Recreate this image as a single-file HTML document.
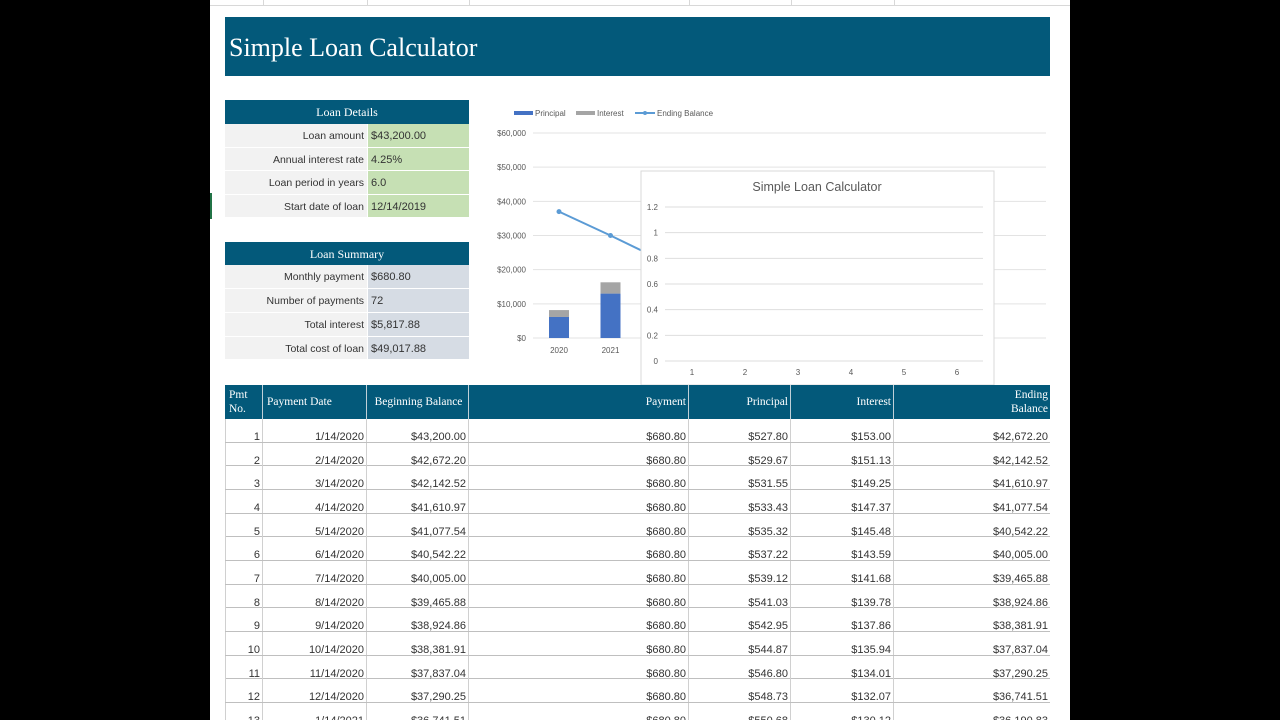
<!DOCTYPE html>
<html><head><meta charset="utf-8">
<style>
*{margin:0;padding:0;box-sizing:border-box}
body{width:1280px;height:720px;background:#000;position:relative;overflow:hidden;font-family:"Liberation Sans",sans-serif}
.abs{position:absolute}
#sheet{left:210px;top:0;width:860px;height:720px;background:#fff}
.hdr{background:#03597a;color:#fff;font-family:"Liberation Serif",serif}
.lbl{background:#f2f2f2;color:#333;font-size:10.5px;text-align:right;padding-right:3px;line-height:25px;border-bottom:1px solid #fff}
.val{color:#333;font-size:11px;padding-left:3px;line-height:25px;border-bottom:1px solid #fff;border-left:1px solid #fff}
.cell{position:absolute;font-size:11px;color:#333;text-align:right;padding-right:2px}
</style></head><body>
<div id="sheet" class="abs">
  <div class="abs" style="left:0;top:0;width:860px;height:6px;border-bottom:1px solid #d8d8d8"></div>
  <div class="abs" style="left:53px;top:0;width:1px;height:6px;background:#d8d8d8"></div>
  <div class="abs" style="left:157px;top:0;width:1px;height:6px;background:#d8d8d8"></div>
  <div class="abs" style="left:259px;top:0;width:1px;height:6px;background:#d8d8d8"></div>
  <div class="abs" style="left:479px;top:0;width:1px;height:6px;background:#d8d8d8"></div>
  <div class="abs" style="left:581px;top:0;width:1px;height:6px;background:#d8d8d8"></div>
  <div class="abs" style="left:684px;top:0;width:1px;height:6px;background:#d8d8d8"></div>
  <div class="abs" style="left:0;top:193px;width:2px;height:26px;background:#217346"></div>
</div>

<div class="abs hdr" style="left:225px;top:17px;width:825px;height:59px;font-size:26px;padding-left:4px;line-height:62px">Simple Loan Calculator</div>

<div class="abs hdr" style="left:225px;top:100px;width:244px;height:24px;font-size:12px;text-align:center;line-height:24px">Loan Details</div>
<div class="abs" style="left:225px;top:124px;width:244px">
  <div style="display:flex;height:24px"><div class="lbl" style="width:142px">Loan amount</div><div class="val" style="width:102px;background:#c6e0b4">$43,200.00</div></div>
  <div style="display:flex;height:23px"><div class="lbl" style="width:142px">Annual interest rate</div><div class="val" style="width:102px;background:#c6e0b4">4.25%</div></div>
  <div style="display:flex;height:24px"><div class="lbl" style="width:142px">Loan period in years</div><div class="val" style="width:102px;background:#c6e0b4">6.0</div></div>
  <div style="display:flex;height:23px"><div class="lbl" style="width:142px">Start date of loan</div><div class="val" style="width:102px;background:#c6e0b4">12/14/2019</div></div>
</div>

<div class="abs hdr" style="left:225px;top:242px;width:244px;height:23px;font-size:12px;text-align:center;line-height:24px">Loan Summary</div>
<div class="abs" style="left:225px;top:265px;width:244px">
  <div style="display:flex;height:24px"><div class="lbl" style="width:142px">Monthly payment</div><div class="val" style="width:102px;background:#d6dce4">$680.80</div></div>
  <div style="display:flex;height:24px"><div class="lbl" style="width:142px">Number of payments</div><div class="val" style="width:102px;background:#d6dce4">72</div></div>
  <div style="display:flex;height:24px"><div class="lbl" style="width:142px">Total interest</div><div class="val" style="width:102px;background:#d6dce4">$5,817.88</div></div>
  <div style="display:flex;height:23px"><div class="lbl" style="width:142px">Total cost of loan</div><div class="val" style="width:102px;background:#d6dce4">$49,017.88</div></div>
</div>

<svg class="abs" id="chart" style="left:0;top:0" width="1280" height="720"></svg>

<div class="abs" id="tbl" style="left:225px;top:385px;width:825px;height:335px;overflow:hidden"></div>

<script>
const NS="http://www.w3.org/2000/svg";
const years=["2020","2021","2022","2023","2024","2025"];
const principalVals=[6150,13000,13580,14170,14790,15430];
const interestVals=[2020,3300,2590,2000,1380,740];
const balanceVals=[36990,30000,22700,15150,7500,0];
const yTicks=[0,10000,20000,30000,40000,50000,60000];
const yTickLabels=["$0","$10,000","$20,000","$30,000","$40,000","$50,000","$60,000"];
const ovTicks=[0,0.2,0.4,0.6,0.8,1,1.2];
const ovTickLabels=["0","0.2","0.4","0.6","0.8","1","1.2"];
const ovCats=["1","2","3","4","5","6"];

const svg=document.getElementById('chart');
function mk(t,a){const e=document.createElementNS(NS,t);for(const k in a)e.setAttribute(k,a[k]);svg.appendChild(e);return e;}
const yS=v=>338-v/60000*205;
const xS=i=>559+i*51.5;

for(let i=0;i<yTicks.length;i++){
  const g=mk('line',{x1:533,x2:1046,y1:yS(yTicks[i]),y2:yS(yTicks[i]),stroke:'#e3e3e3','stroke-width':1});
  
  
  const t=mk('text',{x:526,y:yS(yTicks[i])+3,'text-anchor':'end','font-size':8,fill:'#595959','font-family':'Liberation Sans, sans-serif'});
  t.textContent=yTickLabels[i];
  
  
}
for(let i=0;i<years.length;i++){
  const p=mk('rect',{x:xS(i)-10,y:yS(principalVals[i]),width:20,height:338-yS(principalVals[i]),fill:'#4472c4'});
  
  
  const q=mk('rect',{x:xS(i)-10,y:yS(principalVals[i]+interestVals[i]),width:20,height:yS(principalVals[i])-yS(principalVals[i]+interestVals[i]),fill:'#a5a5a5'});
  
  
  const t=mk('text',{x:xS(i),y:353,'text-anchor':'middle','font-size':8,fill:'#595959','font-family':'Liberation Sans, sans-serif'});
  t.textContent=years[i];
  
  
}
const pts=balanceVals.map((v,i)=>xS(i)+','+yS(v)).join(' ');
const ln=mk('polyline',{points:pts,fill:'none',stroke:'#5b9bd5','stroke-width':2});


for(let i=0;i<balanceVals.length;i++){
  const c=mk('circle',{cx:xS(i),cy:yS(balanceVals[i]),r:2.5,fill:'#5b9bd5'});
  
  
}
const l1=mk('rect',{x:514,y:111,width:19,height:4,fill:'#4472c4'});


const l1t=mk('text',{x:535,y:116,'font-size':8,fill:'#595959','font-family':'Liberation Sans, sans-serif'});l1t.textContent='Principal';


const l2=mk('rect',{x:576,y:111,width:19,height:4,fill:'#a5a5a5'});


const l2t=mk('text',{x:597,y:116,'font-size':8,fill:'#595959','font-family':'Liberation Sans, sans-serif'});l2t.textContent='Interest';


const l3=mk('line',{x1:635,x2:655,y1:113,y2:113,stroke:'#5b9bd5','stroke-width':2});


const l3c=mk('circle',{cx:645,cy:113,r:2,fill:'#5b9bd5'});


const l3t=mk('text',{x:657,y:116,'font-size':8,fill:'#595959','font-family':'Liberation Sans, sans-serif'});l3t.textContent='Ending Balance';



const ov=mk('rect',{x:641,y:171,width:353,height:214,fill:'#fff',stroke:'#d9d9d9','stroke-width':1});


const ovT=mk('text',{x:817,y:191,'text-anchor':'middle','font-size':12.5,fill:'#595959','font-family':'Liberation Sans, sans-serif'});ovT.textContent='Simple Loan Calculator';


const oyS=v=>361-v/1.2*154;
for(let i=0;i<ovTicks.length;i++){
  const g=mk('line',{x1:665,x2:983,y1:oyS(ovTicks[i]),y2:oyS(ovTicks[i]),stroke:'#dedede','stroke-width':1});
  
  
  const t=mk('text',{x:658,y:oyS(ovTicks[i])+3,'text-anchor':'end','font-size':8,fill:'#595959','font-family':'Liberation Sans, sans-serif'});
  t.textContent=ovTickLabels[i];
  
  
}
for(let i=0;i<ovCats.length;i++){
  const t=mk('text',{x:692+i*53,y:375,'text-anchor':'middle','font-size':8,fill:'#595959','font-family':'Liberation Sans, sans-serif'});
  t.textContent=ovCats[i];
  
  
}

const cols=[0,38,142,244,464,566,669,825];
const heads=["Pmt<br>No.","Payment Date","Beginning Balance","Payment","Principal","Interest","Ending<br>Balance"];
const rows=[
["1","1/14/2020","$43,200.00","$680.80","$527.80","$153.00","$42,672.20"],
["2","2/14/2020","$42,672.20","$680.80","$529.67","$151.13","$42,142.52"],
["3","3/14/2020","$42,142.52","$680.80","$531.55","$149.25","$41,610.97"],
["4","4/14/2020","$41,610.97","$680.80","$533.43","$147.37","$41,077.54"],
["5","5/14/2020","$41,077.54","$680.80","$535.32","$145.48","$40,542.22"],
["6","6/14/2020","$40,542.22","$680.80","$537.22","$143.59","$40,005.00"],
["7","7/14/2020","$40,005.00","$680.80","$539.12","$141.68","$39,465.88"],
["8","8/14/2020","$39,465.88","$680.80","$541.03","$139.78","$38,924.86"],
["9","9/14/2020","$38,924.86","$680.80","$542.95","$137.86","$38,381.91"],
["10","10/14/2020","$38,381.91","$680.80","$544.87","$135.94","$37,837.04"],
["11","11/14/2020","$37,837.04","$680.80","$546.80","$134.01","$37,290.25"],
["12","12/14/2020","$37,290.25","$680.80","$548.73","$132.07","$36,741.51"],
["13","1/14/2021","$36,741.51","$680.80","$550.68","$130.12","$36,190.83"]];
const tbl=document.getElementById('tbl');
const hd=document.createElement('div');
hd.className='abs hdr';
hd.style.cssText='left:0;top:0;width:825px;height:34px';


tbl.appendChild(hd);
for(let c=0;c<7;c++){
  const h=document.createElement('div');
  h.className='abs';
  const al=c<2?'left':(c==2?'center':'right');
  h.style.cssText=`left:${cols[c]}px;top:0;width:${cols[c+1]-cols[c]}px;height:34px;font-size:11.5px;line-height:14px;display:flex;align-items:center;justify-content:${c<2?'flex-start':(c==2?'center':'flex-end')};text-align:${al};padding:0 2px 0 4px;${c<6?'border-right:1px solid #c0d0d8;':''}`;
  h.innerHTML=heads[c];
  
  
  hd.appendChild(h);
}
for(let r=0;r<rows.length;r++){
  const top=34+r*23.67;
  const rw=document.createElement('div');
  rw.className='abs';
  rw.style.cssText=`left:0;top:${top}px;width:825px;height:23.67px;border-bottom:1px solid #bfbfbf`;
  
  
  tbl.appendChild(rw);
  for(let c=0;c<7;c++){
    const d=document.createElement('div');
    d.className='cell';
    d.style.cssText=`left:${cols[c]}px;top:0;width:${cols[c+1]-cols[c]}px;height:23px;line-height:36px;${c<6?'border-right:1px solid #d0d0d0;':''}${c==0?'border-left:1px solid #d0d0d0;':''}`;
    d.textContent=rows[r][c];
    
    
    rw.appendChild(d);
  }
}
</script>
</body></html>
